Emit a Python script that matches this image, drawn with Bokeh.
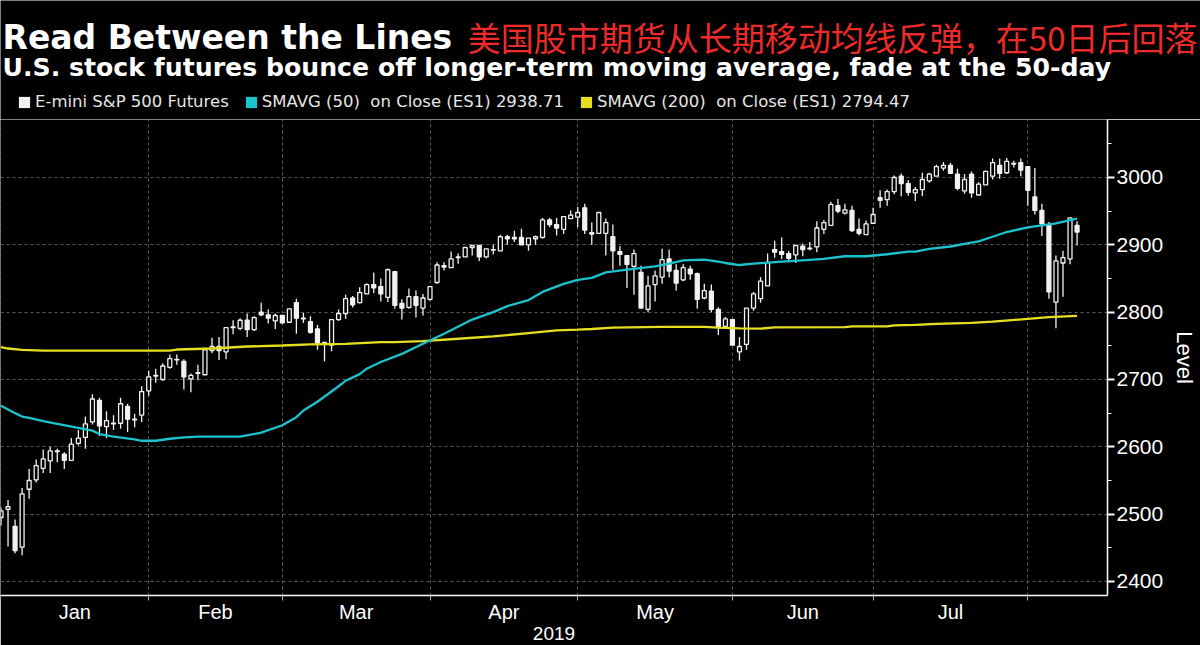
import pandas as pd
from bokeh.plotting import figure
from bokeh.layouts import column
from bokeh.models import (FixedTicker, Legend, LegendItem, Range1d, ColumnDataSource)
from bokeh.core.properties import value
from bokeh.embed import file_html
from bokeh.resources import INLINE

# ---------------- data ----------------
holidays = ["2019-01-01", "2019-01-21", "2019-02-18", "2019-04-19", "2019-05-27", "2019-07-04"]
dates = [d for d in pd.bdate_range("2018-12-31", "2019-08-09") if d.strftime("%Y-%m-%d") not in holidays]

opens = [2495, 2507, 2482, 2451, 2537, 2551, 2568, 2579, 2593, 2589,
         2580, 2605, 2614, 2637, 2669, 2630, 2634, 2635, 2660, 2641,
         2647, 2683, 2706, 2700, 2718, 2730, 2727, 2701, 2709, 2707,
         2743, 2749, 2741, 2777, 2776, 2788, 2774, 2800, 2796, 2787,
         2795, 2785, 2814, 2791, 2786, 2775, 2755, 2751, 2789, 2798,
         2821, 2814, 2827, 2841, 2838, 2822, 2860, 2813, 2807, 2823,
         2806, 2819, 2844, 2869, 2866, 2881, 2882, 2896, 2899, 2882,
         2892, 2891, 2912, 2911, 2911, 2900, 2909, 2911, 2937, 2930,
         2923, 2939, 2941, 2955, 2918, 2917, 2917, 2912, 2890, 2884,
         2868, 2859, 2804, 2841, 2852, 2879, 2862, 2848, 2864, 2857,
         2821, 2831, 2804, 2779, 2789, 2741, 2752, 2806, 2820, 2839,
         2893, 2890, 2887, 2885, 2898, 2894, 2897, 2923, 2929, 2958,
         2947, 2951, 2923, 2915, 2932, 2970, 2967, 2979, 3002, 2991,
         2977, 2982, 2995, 3002, 3014, 3018, 3005, 2980, 3005, 2974,
         2989, 3002, 3018, 3007, 3021, 3022, 3016, 2971, 2951, 2929,
         2815, 2873, 2879, 2929]
closes = [2505, 2511, 2446, 2530, 2550, 2572, 2582, 2594, 2594, 2580,
          2604, 2613, 2634, 2671, 2631, 2639, 2635, 2664, 2641, 2640,
          2682, 2704, 2705, 2720, 2731, 2729, 2704, 2706, 2710, 2744,
          2749, 2743, 2777, 2778, 2788, 2774, 2792, 2796, 2791, 2795,
          2784, 2805, 2791, 2790, 2770, 2754, 2752, 2789, 2798, 2820,
          2811, 2829, 2841, 2836, 2827, 2863, 2810, 2806, 2823, 2810,
          2821, 2838, 2870, 2867, 2879, 2882, 2896, 2899, 2882, 2894,
          2893, 2912, 2909, 2909, 2900, 2910, 2912, 2937, 2930, 2925,
          2942, 2944, 2948, 2922, 2916, 2948, 2933, 2891, 2886, 2871,
          2887, 2806, 2839, 2854, 2878, 2861, 2843, 2866, 2857, 2819,
          2832, 2804, 2779, 2790, 2751, 2749, 2806, 2827, 2846, 2874,
          2889, 2886, 2880, 2899, 2893, 2895, 2925, 2933, 2960, 2950,
          2952, 2921, 2917, 2931, 2945, 2966, 2979, 3000, 2991, 2978,
          2982, 2997, 3005, 3016, 3018, 3006, 2984, 2997, 2977, 2990,
          3009, 3022, 3006, 3024, 3020, 3011, 2981, 2951, 2931, 2830,
          2876, 2881, 2940, 2919]
highs = [2510, 2521, 2492, 2539, 2567, 2581, 2596, 2600, 2597, 2592,
         2613, 2625, 2645, 2678, 2673, 2653, 2647, 2673, 2664, 2649,
         2690, 2713, 2716, 2724, 2737, 2737, 2730, 2709, 2722, 2747,
         2762, 2763, 2777, 2788, 2791, 2798, 2794, 2814, 2804, 2798,
         2795, 2806, 2820, 2799, 2794, 2781, 2755, 2789, 2804, 2826,
         2824, 2837, 2843, 2859, 2850, 2865, 2860, 2819, 2835, 2832,
         2827, 2838, 2874, 2874, 2890, 2887, 2896, 2899, 2899, 2894,
         2900, 2915, 2915, 2921, 2924, 2910, 2914, 2940, 2940, 2940,
         2942, 2951, 2956, 2961, 2933, 2948, 2939, 2930, 2898, 2884,
         2893, 2869, 2854, 2862, 2894, 2893, 2871, 2871, 2869, 2859,
         2842, 2841, 2807, 2793, 2790, 2763, 2806, 2830, 2852, 2887,
         2906, 2911, 2891, 2899, 2902, 2904, 2935, 2937, 2964, 2968,
         2961, 2958, 2939, 2936, 2955, 2981, 2982, 3003, 3006, 2996,
         2986, 3007, 3007, 3019, 3023, 3022, 3013, 3005, 3009, 2993,
         3010, 3028, 3028, 3029, 3025, 3028, 3016, 3014, 2961, 2934,
         2884, 2891, 2940, 2935]
lows = [2483, 2452, 2442, 2439, 2523, 2547, 2561, 2561, 2577, 2567,
        2579, 2602, 2597, 2633, 2616, 2613, 2625, 2627, 2622, 2629,
        2637, 2676, 2695, 2698, 2716, 2722, 2685, 2681, 2699, 2707,
        2739, 2729, 2730, 2767, 2773, 2763, 2772, 2794, 2783, 2775,
        2783, 2784, 2768, 2784, 2768, 2744, 2727, 2742, 2787, 2790,
        2807, 2813, 2827, 2828, 2816, 2815, 2805, 2789, 2805, 2792,
        2795, 2817, 2842, 2862, 2866, 2872, 2882, 2884, 2876, 2880,
        2886, 2891, 2900, 2904, 2900, 2891, 2900, 2909, 2926, 2914,
        2916, 2939, 2926, 2916, 2900, 2917, 2884, 2863, 2869, 2836,
        2826, 2806, 2800, 2816, 2842, 2852, 2832, 2846, 2848, 2805,
        2819, 2800, 2766, 2778, 2751, 2728, 2744, 2802, 2814, 2839,
        2881, 2879, 2874, 2873, 2883, 2892, 2889, 2916, 2929, 2947,
        2945, 2919, 2914, 2915, 2932, 2955, 2958, 2975, 2972, 2973,
        2965, 2972, 2992, 3002, 3010, 3005, 2981, 2976, 2970, 2974,
        2989, 2997, 2998, 3005, 3015, 3002, 2958, 2945, 2913, 2820,
        2776, 2823, 2871, 2899]

# 50-day and 200-day simple moving averages (bar index, value)
sma50_idx = [0, 2, 3, 4, 6, 8, 11, 13, 14, 16, 19, 20, 22, 24, 26, 28, 34, 37, 40, 42,
             43, 45, 48, 49, 51, 52, 54, 57, 60, 63, 67, 70, 72, 75, 77, 80, 82, 84, 86, 89,
             93, 95, 97, 100, 102, 103, 105, 107, 111, 114, 117, 120, 123, 126, 129, 130, 132, 135, 137, 139,
             141, 143, 146, 148, 150, 153]
sma50_val = [2661, 2650, 2645, 2643, 2638, 2634, 2628, 2624, 2619, 2615, 2611, 2609, 2609, 2612, 2614, 2615, 2615, 2621, 2632, 2644,
             2654, 2667, 2690, 2698, 2708, 2716, 2726, 2738, 2753, 2768, 2789, 2800, 2809, 2818, 2830, 2842, 2848, 2851, 2859, 2863,
             2868, 2872, 2877, 2878, 2875, 2873, 2870, 2872, 2875, 2877, 2879, 2883, 2883, 2886, 2890, 2890, 2894, 2897.5, 2901.5, 2905,
             2912, 2919, 2926, 2929, 2932, 2938.71]
sma200_idx = [0, 1, 3, 6, 24, 25, 30, 35, 40, 44, 49, 54, 56, 60, 65, 70, 75, 79, 82, 84,
              87, 94, 100, 102, 105, 108, 110, 120, 121, 126, 127, 130, 133, 138, 141, 146, 149, 153]
sma200_val = [2748, 2746, 2744, 2743, 2743, 2744.5, 2746, 2749, 2750.5, 2752, 2753, 2755.5, 2755.5, 2757, 2760.5, 2764, 2769, 2773, 2774, 2775,
              2777, 2778, 2778, 2777, 2776, 2775.5, 2777.5, 2777.7, 2779, 2779, 2780.5, 2781, 2782.7, 2784, 2786, 2790, 2792.5, 2794.47]

y_ticks = [2400, 2500, 2600, 2700, 2800, 2900, 3000]
y_minor = [2450, 2550, 2650, 2750, 2850, 2950, 3050]

title_en = "Read Between the Lines"
title_cn = "美国股市期货从长期移动均线反弹，在50日后回落"
subtitle = "U.S. stock futures bounce off longer-term moving average, fade at the 50-day"
legend_labels = ["E-mini S&P 500 Futures", "SMAVG (50)  on Close (ES1) 2938.71", "SMAVG (200)  on Close (ES1) 2794.47"]

CANDLE = "#f2f2f2"
CYAN = "#1cc3cc"
YELLOW = "#e6df1f"
GRID = "#5c5c5c"

# ---------------- derived ----------------
n = len(opens)
idx = list(range(n))
month_end = [i for i in range(n) if i == n - 1 or dates[i].month != dates[i + 1].month][:-1]
month_mid = [(month_end[k] + month_end[k + 1]) / 2 for k in range(len(month_end) - 1)]
month_names = [dates[month_end[k] + 1].strftime("%b") for k in range(len(month_end) - 1)]

up = [c >= o for o, c in zip(opens, closes)]
src_up = ColumnDataSource(dict(x=[i for i in idx if up[i]],
                               top=[closes[i] for i in idx if up[i]],
                               bottom=[opens[i] for i in idx if up[i]]))
src_dn = ColumnDataSource(dict(x=[i for i in idx if not up[i]],
                               top=[opens[i] for i in idx if not up[i]],
                               bottom=[closes[i] for i in idx if not up[i]]))
src_wick = ColumnDataSource(dict(x=idx, high=highs, low=lows))

W, H = 1200, 645
HEAD_H = 119
FRAME_W = 1109
RIGHT = W - FRAME_W

# ---------------- header (titles + legend) ----------------
hdr = figure(width=W, height=HEAD_H, output_backend="svg", toolbar_location=None,
             x_axis_location=None, y_axis_location=None, min_border=0,
             background_fill_color="black", border_fill_color="black", outline_line_color=None)
can_unalign = "frame_align" in hdr.properties()
if can_unalign:
    hdr.frame_align = False
    hdr_w = W
else:
    hdr.min_border_right = RIGHT
    hdr_w = FRAME_W
hdr.x_range = Range1d(0, hdr_w)
hdr.y_range = Range1d(HEAD_H, 0)
hdr.grid.visible = False

hdr.text(x=[2], y=[36.5], text=[title_en], text_font=value("DejaVu Sans"), text_font_style="bold",
         text_font_size="33px", text_color="white", text_baseline="alphabetic", text_align="left")
hdr.text(x=[min(1197, hdr_w)], y=[36.5], text=[title_cn], text_font=value("Noto Sans CJK SC"),
         text_font_size="33px", text_color="#ee2a2a", text_baseline="alphabetic", text_align="right")
hdr.text(x=[2], y=[66.5], text=[subtitle], text_font=value("DejaVu Sans"), text_font_style="bold",
         text_font_size="25.2px", text_color="white", text_baseline="alphabetic", text_align="left")

# legend swatches (renderers sit outside the header's visible range; used only for legend glyphs)
sq_w = hdr.vbar(x=[-50], top=[-50], bottom=[-60], width=1, fill_color=CANDLE, line_color=None)
sq_c = hdr.vbar(x=[-50], top=[-50], bottom=[-60], width=1, fill_color=CYAN, line_color=None)
sq_y = hdr.vbar(x=[-50], top=[-50], bottom=[-60], width=1, fill_color=YELLOW, line_color=None)
legend = Legend(items=[LegendItem(label=legend_labels[0], renderers=[sq_w]),
                       LegendItem(label=legend_labels[1], renderers=[sq_c]),
                       LegendItem(label=legend_labels[2], renderers=[sq_y])],
                orientation="horizontal", location=(17, 8),
                background_fill_alpha=0, border_line_color=None,
                label_text_color="#e6e6e6", label_text_font="DejaVu Sans", label_text_font_size="16.5px",
                glyph_width=14, glyph_height=14, label_standoff=4, spacing=15, padding=0, margin=0)
hdr.add_layout(legend, "center")

# ---------------- main chart ----------------
spacing = 1078.0 / 153
x0 = -0.5 / spacing
p = figure(width=W, height=H - HEAD_H, output_backend="svg", toolbar_location=None,
           x_range=Range1d(x0, x0 + FRAME_W / spacing), y_range=Range1d(2379.2, 3086.1),
           y_axis_location="right", min_border_left=0, min_border_right=RIGHT,
           min_border_top=0, min_border_bottom=50,
           background_fill_color="black", border_fill_color="black", outline_line_color=None)
if can_unalign:
    p.frame_align = False

p.ygrid.grid_line_color = GRID
p.ygrid.grid_line_dash = "3 3"
p.xgrid.ticker = FixedTicker(ticks=month_end)
p.xgrid.grid_line_color = GRID
p.xgrid.grid_line_dash = "3 3"

# candles
p.segment(x0="x", y0="low", x1="x", y1="high", source=src_wick, line_color=CANDLE, line_width=1.3)
p.vbar(x="x", top="top", bottom="bottom", width=0.56, source=src_up,
       fill_color="black", line_color=CANDLE, line_width=1.3)
p.vbar(x="x", top="top", bottom="bottom", width=0.56, source=src_dn,
       fill_color=CANDLE, line_color=CANDLE, line_width=1.3)

# moving averages
p.line(sma200_idx, sma200_val, line_color=YELLOW, line_width=2.3)
p.line(sma50_idx, sma50_val, line_color=CYAN, line_width=2.3)

# y axis (right)
ya = p.yaxis[0]
ya.ticker = FixedTicker(ticks=y_ticks, minor_ticks=y_minor)
ya.axis_line_color = "white"
ya.axis_line_width = 1.5
ya.major_tick_line_color = "white"
ya.major_tick_line_width = 2
ya.major_tick_out = 7
ya.major_tick_in = 0
ya.minor_tick_line_color = "white"
ya.minor_tick_out = 4
ya.minor_tick_in = 0
ya.major_label_text_color = "white"
ya.major_label_text_font = "Liberation Sans"
ya.major_label_text_font_size = "21px"
ya.major_label_standoff = 2
ya.axis_label = "Level"
ya.axis_label_text_color = "white"
ya.axis_label_text_font = "Liberation Sans"
ya.axis_label_text_font_size = "22px"
ya.axis_label_text_font_style = "normal"
ya.axis_label_standoff = 6

# x axis (bottom)
xa = p.xaxis[0]
xa.ticker = FixedTicker(ticks=month_mid, minor_ticks=month_end)
xa.major_label_overrides = {m: name for m, name in zip(month_mid, month_names)}
xa.axis_line_color = "white"
xa.axis_line_width = 1.5
xa.major_tick_line_color = None
xa.major_tick_out = 0
xa.major_tick_in = 0
xa.minor_tick_line_color = "#b0b0b0"
xa.minor_tick_out = 5
xa.minor_tick_in = 0
xa.major_label_text_color = "white"
xa.major_label_text_font = "Liberation Sans"
xa.major_label_text_font_size = "20px"
xa.major_label_standoff = 0
xa.axis_label = str(dates[-1].year)
xa.axis_label_text_color = "white"
xa.axis_label_text_font = "Liberation Sans"
xa.axis_label_text_font_size = "19px"
xa.axis_label_text_font_style = "normal"
xa.axis_label_standoff = 1

layout = column(hdr, p, spacing=0)
open("out.html", "w").write(file_html(layout, INLINE))
